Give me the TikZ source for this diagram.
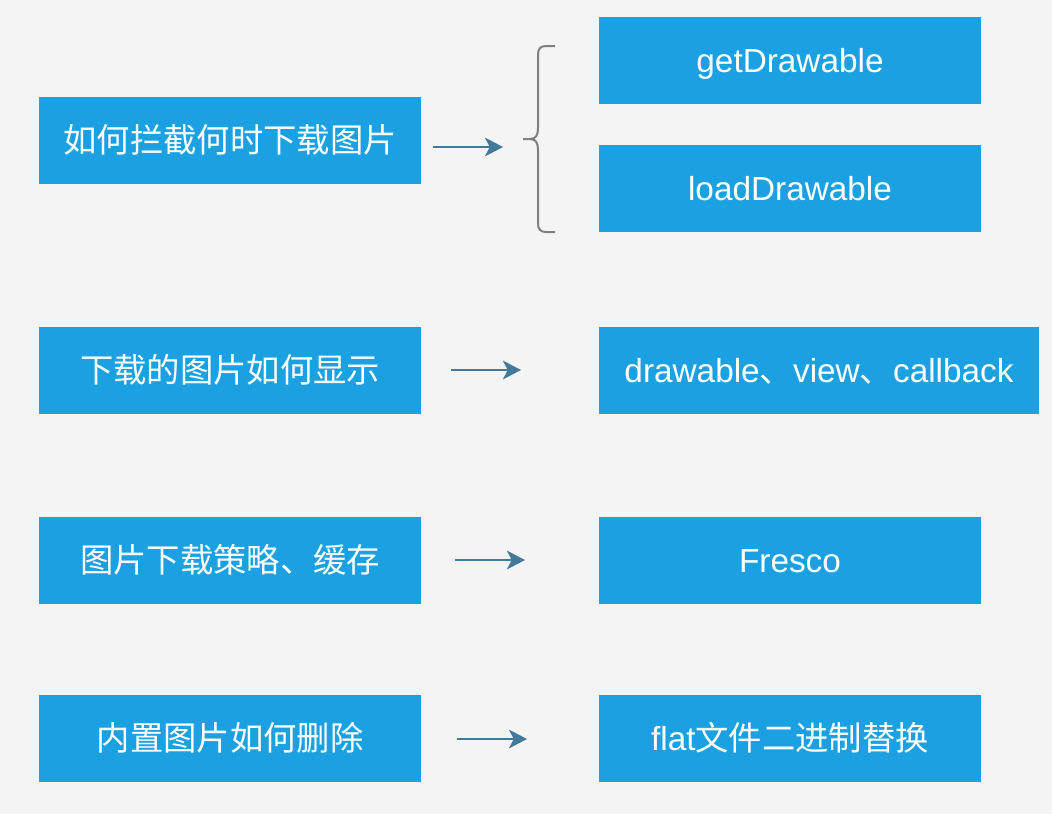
\documentclass[tikz,border=0pt]{standalone}
\usepackage{fontspec}
\setmainfont{Liberation Sans}
\newfontfamily\cjk{Noto Sans CJK SC}
\usetikzlibrary{arrows.meta}
\definecolor{boxblue}{HTML}{1BA1E2}
\definecolor{bgcol}{HTML}{F4F4F4}
\definecolor{arrcol}{HTML}{44799E}
\definecolor{bracecol}{HTML}{7F7F7F}
\tikzset{
  box/.style={fill=boxblue, draw=none, text=white, minimum height=87*0.75pt, minimum width=382*0.75pt, inner sep=0pt, text height=17.9pt, text depth=0pt, font=\fontsize{25pt}{30pt}\selectfont},
  widebox/.style={box, minimum width=440*0.75pt},
  conn/.style={draw=arrcol, line width=1.5pt, -{Stealth[length=13.5pt, width=14pt, inset=3.5pt]}},
  bracestyle/.style={draw=bracecol, line width=1.5pt}
}
\begin{document}
\begin{tikzpicture}[x=0.75pt, y=-0.75pt]
\fill[bgcol] (0,0) rectangle (1052,814);
\useasboundingbox (0,0) rectangle (1052,814);

% left boxes
\node[box] (l1) at (230,140.5) {\cjk 如何拦截何时下载图片};
\node[box] (l2) at (230,370.5) {\cjk 下载的图片如何显示};
\node[box] (l3) at (230,560.5) {\cjk 图片下载策略、缓存};
\node[box] (l4) at (230,738.5) {\cjk 内置图片如何删除};

% right boxes
\node[box] (r1a) at (790,60.5) {getDrawable};
\node[box] (r1b) at (790,188.5) {loadDrawable};
\node[widebox] (r2) at (819,370.5) {drawable{\cjk 、}view{\cjk 、}callback};
\node[box] (r3) at (790,560.5) {Fresco};
\node[box] (r4) at (790,738.5) {flat{\cjk 文件二进制替换}};

% brace
\coordinate (tip) at (523,139);
\draw[bracestyle] (555,46) -- (546,46) .. controls (540,46) and (538,49) .. (538,55)
  -- (538,128) .. controls (538,135) and (536,139) .. (530,139) -- (tip)
  -- (530,139) .. controls (536,139) and (538,143) .. (538,150)
  -- (538,223) .. controls (538,229) and (540,232) .. (546,232) -- (555,232);

% arrow anchors
\coordinate (a1s) at (433,147);
\coordinate (a1e) at (503,147);
\coordinate (a2s) at (451,370);
\coordinate (a2e) at (521,370);
\coordinate (a3s) at (455,560);
\coordinate (a3e) at (525,560);
\coordinate (a4s) at (457,739);
\coordinate (a4e) at (527,739);

\draw[conn] (a1s) -- (a1e);
\draw[conn] (a2s) -- (a2e);
\draw[conn] (a3s) -- (a3e);
\draw[conn] (a4s) -- (a4e);
\end{tikzpicture}
\end{document}
